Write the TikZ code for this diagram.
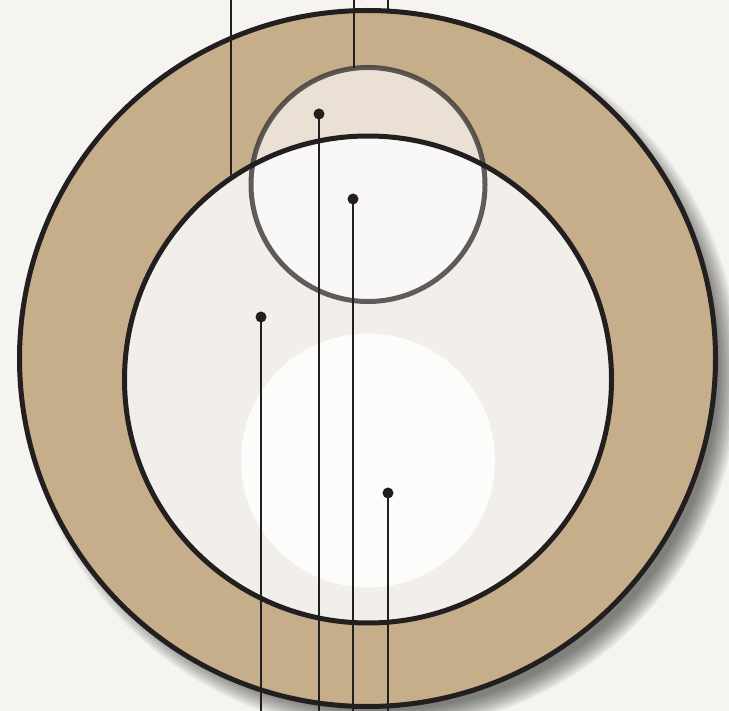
\documentclass[tikz,border=0pt]{standalone}
\usepackage{xcolor}
\usepackage{tikz}
\usetikzlibrary{calc}
\definecolor{Paper}{HTML}{F5F4F0}
\definecolor{Tan}{HTML}{C6AE8A}
\definecolor{Cream}{HTML}{F2EEE9}
\definecolor{Glow}{HTML}{FCFCFB}
\definecolor{Ink}{HTML}{231F20}
\definecolor{Ring}{HTML}{3A3636}

\begin{document}
\begin{tikzpicture}[
  x=1pt, y=-1pt,
  disc/.style={circle, inner sep=0pt, outer sep=0pt},
  rim/.style={draw=Ink, line width=5pt},
  pin/.style={draw=Ink, line width=2.6pt},
  pinhead/.style={fill=Ink},
]

% ---------- Canvas ----------
\fill[Paper] (0,0) rectangle (729,711);
\useasboundingbox (0,0) rectangle (729,711);

% ---------- Drop shadow of the plate ----------
\foreach \r in {338,340,...,358}
  \fill[black, opacity=0.055] (381,373) circle[radius=\r pt];

% ---------- Discs ----------
\node[disc, rim, fill=Tan, minimum size=696pt] (plate) at (367.5,358.5) {};
\node[disc, fill=Cream, minimum size=487pt] (well) at (368,379.5) {};
\fill[Glow] (368,460.5) circle[radius=127pt];
\node[disc, fill=white, fill opacity=0.64, draw=Ring, draw opacity=0.8,
      line width=5pt, minimum size=234pt] (lens) at (368,184.5) {};
\draw[rim] (well) circle[radius=243.5pt];

% ---------- Leader lines from the top ----------
\coordinate (top_a) at (231,0);
\coordinate (top_b) at (354,0);
\coordinate (top_c) at (388,0);
\coordinate (end_a) at (231,175);   % meets the well rim
\coordinate (end_b) at (354,68);    % meets the lens rim
\coordinate (end_c) at (388,11);    % meets the plate rim
\draw[pin] (top_a) -- (end_a);
\draw[pin] (top_b) -- (end_b);
\draw[pin] (top_c) -- (end_c);

% ---------- Leader lines to the bottom ----------
\foreach \n/\x/\y in {p1/319/114, p2/353/199, p3/261/317, p4/388/493} {
  \coordinate (\n) at (\x,\y);
  \coordinate (\n_foot) at (\x,711);
  \draw[pin] (\n) -- (\n_foot);
  \fill[pinhead] (\n) circle[radius=5.5pt];
}

\end{tikzpicture}
\end{document}
